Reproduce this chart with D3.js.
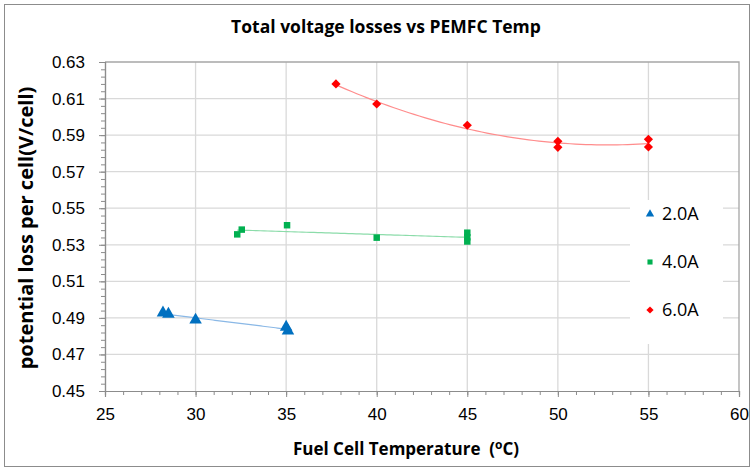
<!DOCTYPE html>
<html>
<head>
<meta charset="utf-8">
<script src="https://cdn.jsdelivr.net/npm/d3@7"></script>
<style>
  html, body { margin: 0; padding: 0; background: #fff; }
  svg { display: block; font-family: "Open Sans", "DejaVu Sans", sans-serif; }
</style>
</head>
<body>
<svg id="chart" width="753" height="468"></svg>
<script>
// Measured loss per cell at each fuel cell temperature, per load current
const temp2A = [28.2, 28.5, 30.0, 35.0, 35.1];
const loss2A = [0.4928, 0.4921, 0.4889, 0.4850, 0.4829];

const temp4A = [32.3, 32.55, 35.05, 40.0, 45.0, 45.0, 45.0];
const loss4A = [0.5357, 0.5383, 0.5407, 0.5339, 0.5366, 0.5341, 0.5318];

const temp6A = [37.75, 40.0, 45.0, 50.0, 50.0, 55.0, 55.0];
const loss6A = [0.6180, 0.6070, 0.5954, 0.5866, 0.5833, 0.5877, 0.5835];

const seriesNames = ["2.0A", "4.0A", "6.0A"];
const xTicks = [25, 30, 35, 40, 45, 50, 55, 60];
const yTicks = [0.45, 0.47, 0.49, 0.51, 0.53, 0.55, 0.57, 0.59, 0.61, 0.63];

const svg = d3.select("#chart");
const plot = { left: 105, right: 739, top: 62, bottom: 391 };

const x = d3.scaleLinear().domain([25, 60]).range([plot.left, plot.right]);
const y = d3.scaleLinear().domain([0.45, 0.63]).range([plot.bottom, plot.top]);

// Least-squares polynomial fit (degree 1 or 2) for the trendlines
function polyFit(xs, ys, deg) {
  const n = deg + 1;
  const A = Array.from({ length: n }, () => new Array(n + 1).fill(0));
  xs.forEach((xv, k) => {
    for (let i = 0; i < n; i++) {
      for (let j = 0; j < n; j++) A[i][j] += Math.pow(xv, i + j);
      A[i][n] += ys[k] * Math.pow(xv, i);
    }
  });
  for (let i = 0; i < n; i++) {
    let p = i;
    for (let r = i + 1; r < n; r++) if (Math.abs(A[r][i]) > Math.abs(A[p][i])) p = r;
    [A[i], A[p]] = [A[p], A[i]];
    for (let r = 0; r < n; r++) {
      if (r === i) continue;
      const f = A[r][i] / A[i][i];
      for (let c = i; c <= n; c++) A[r][c] -= f * A[i][c];
    }
  }
  const coef = A.map((row, i) => row[n] / row[i]);
  return v => coef.reduce((s, c, i) => s + c * Math.pow(v, i), 0);
}

// Square-proportioned diamond marker (rotated square)
const symbolRhombus = {
  draw(ctx, size) {
    const r = Math.sqrt(size / 2);
    ctx.moveTo(0, -r); ctx.lineTo(r, 0); ctx.lineTo(0, r); ctx.lineTo(-r, 0); ctx.closePath();
  }
};

// Chart frame
svg.append("rect")
  .attr("x", 4.5).attr("y", 4.5).attr("width", 745).attr("height", 462)
  .attr("fill", "#fff").attr("stroke", "#8c8c8c").attr("stroke-width", 1);

// Gridlines
const grid = svg.append("g").attr("stroke", "#d9d9d9").attr("stroke-width", 1.3);
grid.selectAll("line.v").data(xTicks.slice(1, -1)).join("line")
  .attr("x1", d => x(d)).attr("x2", d => x(d))
  .attr("y1", plot.top).attr("y2", plot.bottom);
grid.selectAll("line.h").data(yTicks.slice(1, -1)).join("line")
  .attr("x1", plot.left).attr("x2", plot.right)
  .attr("y1", d => y(d)).attr("y2", d => y(d));

// Plot border top/right
svg.append("path")
  .attr("d", `M${plot.left},${plot.top}H${plot.right}V${plot.bottom}`)
  .attr("fill", "none").attr("stroke", "#a6a6a6").attr("stroke-width", 1.3);

// Axes: minor ticks then major ticks with labels
const axisColor = "#8c8c8c";
const xMinor = d3.range(25, 60.001, 1);
const yMinor = d3.range(0.45, 0.63001, 0.004);

const xAxisG = svg.append("g").attr("transform", `translate(0,${plot.bottom})`);
xAxisG.call(d3.axisBottom(x).tickValues(xMinor).tickSize(4).tickFormat(""));
xAxisG.append("g").call(d3.axisBottom(x).tickValues(xTicks).tickSize(6).tickPadding(11)
  .tickFormat(d3.format("d")));
xAxisG.selectAll("path.domain").attr("stroke", axisColor).attr("stroke-width", 1.2);
xAxisG.selectAll("line").attr("stroke", axisColor);
xAxisG.selectAll("text").attr("fill", "#000").attr("font-size", 17);

const yAxisG = svg.append("g").attr("transform", `translate(${plot.left},0)`);
yAxisG.call(d3.axisLeft(y).tickValues(yMinor).tickSize(4).tickFormat(""));
yAxisG.append("g").call(d3.axisLeft(y).tickValues(yTicks).tickSize(6).tickPadding(14)
  .tickFormat(d3.format(".2f")));
yAxisG.selectAll("path.domain").attr("stroke", axisColor).attr("stroke-width", 1.2);
yAxisG.selectAll("line").attr("stroke", axisColor);
yAxisG.selectAll("text").attr("fill", "#000").attr("font-size", 17);

// Series
const series = [
  { name: seriesNames[0], xs: temp2A, ys: loss2A, color: "#0070c0", trend: "#8ab8e6", deg: 1, shape: d3.symbolTriangle, size: 68, legSize: 30 },
  { name: seriesNames[1], xs: temp4A, ys: loss4A, color: "#00b050", trend: "#8cdcaa", deg: 1, shape: d3.symbolSquare, size: 42, legSize: 26 },
  { name: seriesNames[2], xs: temp6A, ys: loss6A, color: "#ff0000", trend: "#ff8c8c", deg: 2, shape: symbolRhombus, size: 42, legSize: 26 }
];

const line = d3.line().x(d => x(d[0])).y(d => y(d[1]));

series.forEach(s => {
  const f = polyFit(s.xs, s.ys, s.deg);
  const [lo, hi] = d3.extent(s.xs);
  const pts = d3.range(0, 61).map(i => { const v = lo + (hi - lo) * i / 60; return [v, f(v)]; });
  svg.append("path").datum(pts).attr("d", line)
    .attr("fill", "none").attr("stroke", s.trend).attr("stroke-width", 1.2);
});

series.forEach(s => {
  svg.append("g").selectAll("path")
    .data(s.xs.map((v, i) => [v, s.ys[i]]))
    .join("path")
    .attr("transform", d => `translate(${x(d[0])},${y(d[1])})`)
    .attr("d", d3.symbol().type(s.shape).size(s.size))
    .attr("fill", s.color);
});

// Legend
const legend = svg.append("g").attr("transform", "translate(630,200)");
legend.append("rect").attr("width", 93).attr("height", 144).attr("fill", "#fff");
series.forEach((s, i) => {
  const g = legend.append("g").attr("transform", `translate(20,${14 + i * 48})`);
  g.append("path").attr("d", d3.symbol().type(s.shape).size(s.legSize)).attr("fill", s.color);
  g.append("text").attr("x", 12).attr("dy", "0.35em").attr("font-size", 18).text(s.name);
});

// Titles
svg.append("text").attr("x", 386).attr("y", 33).attr("text-anchor", "middle")
  .attr("font-size", 17.5).attr("font-weight", "bold").text("Total voltage losses vs PEMFC Temp");

const xt = svg.append("text").attr("x", 406).attr("y", 455).attr("text-anchor", "middle")
  .attr("font-size", 17).attr("font-weight", "bold").attr("xml:space", "preserve");
xt.append("tspan").text("Fuel Cell Temperature\u00a0\u00a0(");
xt.append("tspan").attr("font-size", 12).attr("dy", -6).text("o");
xt.append("tspan").attr("dy", 6).text("C)");

svg.append("text")
  .attr("transform", "translate(26,228) rotate(-90)")
  .attr("text-anchor", "middle").attr("dy", "0.35em")
  .attr("font-size", 20).attr("font-weight", "bold")
  .text("potential loss per cell(V/cell)");
</script>
</body>
</html>
